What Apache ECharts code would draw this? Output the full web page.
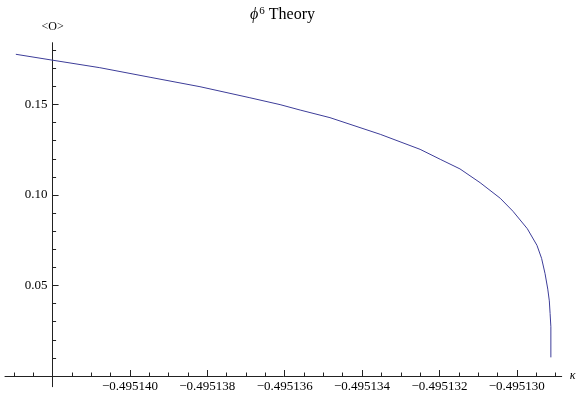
<!DOCTYPE html>
<html>
<head>
<meta charset="utf-8">
<script src="https://cdn.jsdelivr.net/npm/echarts@6/dist/echarts.min.js"></script>
<style>html,body{margin:0;padding:0;background:#fff}#c{width:580px;height:400px}</style>
</head>
<body>
<div id="c"></div>
<script>
// ---- data ----
const kappa = [
  -0.49514295, -0.49514199, -0.49514078, -0.49513948, -0.49513819, -0.49513690,
  -0.49513612, -0.49513560, -0.49513483, -0.49513353, -0.49513250, -0.49513198,
  -0.49513147, -0.49513095, -0.49513043, -0.49513010, -0.49512973, -0.49512948,
  -0.49512936, -0.49512927, -0.49512920, -0.49512916, -0.49512914, -0.49512912, -0.49512912
];
const order = [
  0.1777, 0.1744, 0.1703, 0.1650, 0.1598, 0.1537,
  0.1499, 0.1469, 0.1427, 0.1335, 0.1252, 0.1197,
  0.1144, 0.1068, 0.0982, 0.0910, 0.0814, 0.0722,
  0.0650, 0.0565, 0.0480, 0.0415, 0.0345, 0.0272, 0.0103
];
const xTickLabels = [-0.495140, -0.495138, -0.495136, -0.495134, -0.495132, -0.495130];
const yTickLabels = [0.05, 0.10, 0.15];
const xMinorTicks = [-0.4951430, -0.4951425, -0.4951415, -0.4951410, -0.4951405,
  -0.4951395, -0.4951390, -0.4951385, -0.4951375, -0.4951370, -0.4951365,
  -0.4951355, -0.4951350, -0.4951345, -0.4951335, -0.4951330, -0.4951325,
  -0.4951315, -0.4951310, -0.4951305, -0.4951295, -0.4951290];
const yMinorTicks = [0.01, 0.02, 0.03, 0.04, 0.06, 0.07, 0.08, 0.09, 0.11, 0.12, 0.13, 0.14, 0.16, 0.17, 0.18];
const axisCross = -0.495142;
const xMin = -0.49514323, xMax = -0.49512884;
const yMin = -0.0059, yMax = 0.1841;

const W = 580, H = 400, gridL = 5, gridR = 18.3, gridT = 42.7, gridB = 13.3;
const serif = 'Liberation Serif, Times New Roman, serif';
const axisColor = '#222';
const chart = echarts.init(document.getElementById('c'), null, {renderer: 'canvas'});

function fmtX(v) { return '\u2212' + Math.abs(v).toFixed(6); }

const crossPx = gridL + (axisCross - xMin) / (xMax - xMin) * (W - gridL - gridR);
const yOffset = -(crossPx - gridL);
const zeroPy = gridT + (yMax - 0) / (yMax - yMin) * (H - gridT - gridB);
const xLabelMargin = 4 - ((H - gridB) - zeroPy);

chart.setOption({
  animation: false,
  title: {
    text: '{phi|\u03D5}{sup|6} Theory',
    left: 245, top: 1,
    textStyle: {
      fontFamily: serif, fontSize: 16, fontWeight: 'normal', color: '#000',
      rich: {
        phi: {fontFamily: serif, fontSize: 16, fontStyle: 'italic', color: '#000'},
        sup: {fontFamily: serif, fontSize: 11, color: '#000', padding: [0, 0, 7, 1]}
      }
    }
  },
  grid: {left: gridL, right: gridR, top: gridT, bottom: gridB, containLabel: false, outerBoundsMode: 'none'},
  xAxis: [
    {
      type: 'value', min: xMin, max: xMax,
      axisLine: {onZero: true, onZeroAxisIndex: 0, lineStyle: {color: axisColor, width: 1}},
      axisTick: {show: true, inside: true, length: 6, lineStyle: {color: axisColor}, customValues: xTickLabels},
      axisLabel: {show: true, customValues: xTickLabels, formatter: fmtX, margin: xLabelMargin,
        fontFamily: serif, fontSize: 13, color: '#000'},
      splitLine: {show: false},
      name: '\u03BA', nameLocation: 'end', nameGap: 8,
      nameTextStyle: {fontFamily: serif, fontStyle: 'italic', fontSize: 12, color: '#000', verticalAlign: 'middle'}
    },
    {
      type: 'value', min: xMin, max: xMax, position: 'bottom',
      axisLine: {show: false, onZero: true, onZeroAxisIndex: 0},
      axisTick: {show: true, inside: true, length: 3.5, lineStyle: {color: axisColor}, customValues: xMinorTicks},
      axisLabel: {show: false},
      splitLine: {show: false}
    }
  ],
  yAxis: [
    {
      type: 'value', min: yMin, max: yMax, position: 'left', offset: yOffset,
      axisLine: {onZero: false, lineStyle: {color: axisColor, width: 1}},
      axisTick: {show: true, inside: true, length: 6, lineStyle: {color: axisColor}, customValues: yTickLabels},
      axisLabel: {show: true, customValues: yTickLabels, formatter: v => v.toFixed(2), margin: 5,
        fontFamily: serif, fontSize: 13, color: '#000'},
      splitLine: {show: false},
      name: '<O>', nameLocation: 'end', nameGap: 10,
      nameTextStyle: {fontFamily: serif, fontSize: 12, color: '#000'}
    },
    {
      type: 'value', min: yMin, max: yMax, position: 'left', offset: yOffset,
      axisLine: {show: false, onZero: false},
      axisTick: {show: true, inside: true, length: 3.5, lineStyle: {color: axisColor}, customValues: yMinorTicks},
      axisLabel: {show: false},
      splitLine: {show: false}
    }
  ],
  series: [{
    type: 'line',
    xAxisIndex: 0, yAxisIndex: 0,
    data: kappa.map((k, i) => [k, order[i]]),
    showSymbol: false, smooth: false,
    lineStyle: {color: '#3d3d99', width: 1},
    clip: false
  }]
});
</script>
</body>
</html>
